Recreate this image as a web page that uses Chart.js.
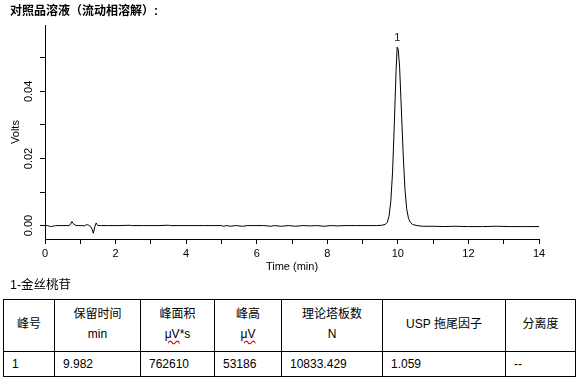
<!DOCTYPE html>
<html>
<head>
<meta charset="utf-8">
<script src="https://cdn.jsdelivr.net/npm/chart.js@4/dist/chart.umd.min.js"></script>
<style>
  body { margin: 0; background: #fff; width: 586px; height: 387px; position: relative; overflow: hidden;
         font-family: "Liberation Sans", "Noto Sans CJK SC", sans-serif; color: #000; }
  #title { position: absolute; left: 10px; top: 3px; font-size: 12px; font-weight: bold; line-height: 16px; white-space: nowrap; }
  #chart-box { position: absolute; left: 0; top: 0; width: 586px; height: 280px; }
  #compound { position: absolute; left: 10px; top: 277px; font-size: 12.5px; line-height: 16px; }
  #peak-table { position: absolute; left: 3px; top: 299px; border-collapse: collapse; table-layout: fixed; font-size: 12px; }
  #peak-table td { border: 1px solid #000; padding: 0; }
  #peak-table tr.head td { height: 52px; text-align: center; line-height: 20px; padding-bottom: 4px; box-sizing: border-box; }
  #peak-table tr.row td { height: 24px; text-align: left; padding-left: 8px; }
  .wavy { text-decoration: underline wavy #d00; text-underline-offset: 2px; }
</style>
</head>
<body>
<div id="chart-box"><canvas id="chromatogram" width="586" height="280"></canvas></div>
<div id="title">对照品溶液（流动相溶解）:</div>
<div id="compound">1-金丝桃苷</div>
<table id="peak-table"></table>

<script>
// chromatogram trace
const times = [
  0.00, 0.08, 0.15, 0.22, 0.30, 0.45, 0.60, 0.68, 0.72, 0.76, 0.80, 0.86, 0.95, 1.05, 1.12, 1.18,
  1.24, 1.30, 1.34, 1.37, 1.41, 1.45, 1.50, 1.60, 1.80, 2.10, 2.40, 2.45, 2.80, 3.20, 3.50, 3.55,
  4.00, 4.50, 5.00, 5.05, 5.15, 5.25, 5.40, 5.60, 5.75, 5.90, 6.20, 6.40, 6.50, 6.70, 6.90, 7.10,
  7.30, 7.50, 7.70, 7.90, 8.10, 8.30, 8.50, 8.80, 9.10, 9.40, 9.55, 9.65, 9.70, 9.75, 9.80, 9.85,
  9.90, 9.95, 9.98, 10.01, 10.05, 10.10, 10.15, 10.20, 10.25, 10.30, 10.35, 10.42, 10.55, 10.70,
  11.00, 11.30, 11.60, 12.00, 12.40, 12.80, 13.20, 13.60, 14.00
];
const volts = [
  0.0000, 0.0000, -0.0003, -0.0002, 0.0000, 0.0000, 0.0000, 0.0000, 0.0003, 0.0012, 0.0006, 0.0001, 0.0000, 0.0000, -0.0001, 0.0003,
  0.0001, -0.0004, -0.0012, -0.0023, -0.0004, 0.0008, 0.0000, 0.0000, 0.0000, 0.0000, 0.0001, 0.0000, 0.0000, 0.0000, 0.0001, 0.0000,
  0.0000, 0.0000, 0.0000, -0.0002, 0.0000, -0.0002, 0.0000, -0.0002, 0.0000, 0.0000, 0.0000, -0.0002, 0.0000, -0.0002, 0.0000, -0.0002,
  0.0000, -0.0001, 0.0000, -0.0002, 0.0000, -0.0001, 0.0000, 0.0000, 0.0000, 0.0000, 0.0001, 0.0004, 0.0010, 0.0028, 0.0072, 0.0160,
  0.0305, 0.0462, 0.0532, 0.0526, 0.0472, 0.0345, 0.0215, 0.0110, 0.0050, 0.0022, 0.0010, 0.0003, 0.0000, -0.0002,
  -0.0002, -0.0003, -0.0002, -0.0003, -0.0003, -0.0002, -0.0003, -0.0003, -0.0003
];

// peak annotation
const peakTimes = [9.982];
const peakHeights = [0.0532];
const peakLabels = ["1"];

// result table
const headNames = ["峰号", "保留时间", "峰面积", "峰高", "理论塔板数", "USP 拖尾因子", "分离度"];
const headUnits = ["", "min", "μV*s", "μV", "N", "", ""];
const rowValues = ["1", "9.982", "762610", "53186", "10833.429", "1.059", "--"];
const colWidths = [51, 86, 74, 67, 101, 123, 70];

const table = document.getElementById("peak-table");
const colgroup = document.createElement("colgroup");
colWidths.forEach((w) => {
  const col = document.createElement("col");
  col.style.width = w + "px";
  colgroup.appendChild(col);
});
table.appendChild(colgroup);
const headRow = table.insertRow();
headRow.className = "head";
headNames.forEach((name, i) => {
  const cell = headRow.insertCell();
  let unit = headUnits[i];
  if (unit === "μV*s") unit = '<span class="wavy">μV</span>*s';
  else if (unit === "μV") unit = '<span class="wavy">μV</span>';
  cell.innerHTML = unit ? name + "<br>" + unit : name;
});
const dataRow = table.insertRow();
dataRow.className = "row";
rowValues.forEach((v) => { dataRow.insertCell().textContent = v; });

const peakLabelPlugin = {
  id: "peakLabels",
  afterDatasetsDraw(chart) {
    const { ctx, scales } = chart;
    ctx.save();
    ctx.font = '11px "Liberation Sans", sans-serif';
    ctx.fillStyle = "#1a1030";
    ctx.textAlign = "center";
    ctx.textBaseline = "middle";
    peakTimes.forEach((t, i) => {
      const x = scales.x.getPixelForValue(t);
      const y = scales.y.getPixelForValue(peakHeights[i]);
      ctx.fillText(peakLabels[i], x, y - 9);
    });
    ctx.restore();
  },
};

const axisFont = { family: '"Liberation Sans", sans-serif', size: 11 };

new Chart(document.getElementById("chromatogram"), {
  type: "line",
  data: {
    datasets: [
      {
        data: times.map((t, i) => ({ x: t, y: volts[i] })),
        borderColor: "#000",
        borderWidth: 1,
        pointRadius: 0,
        tension: 0,
        fill: false,
      },
    ],
  },
  options: {
    responsive: false,
    devicePixelRatio: 1,
    animation: false,
    layout: { padding: { top: 25, right: 47, bottom: 0, left: 0 } },
    plugins: { legend: { display: false }, tooltip: { enabled: false } },
    scales: {
      x: {
        type: "linear",
        min: 0,
        max: 14,
        afterFit: (scale) => { scale.height = 41; },
        border: { display: true, color: "#000", width: 1 },
        grid: { drawOnChartArea: false, drawTicks: true, tickLength: 5, tickColor: "#000" },
        ticks: {
          stepSize: 1,
          includeBounds: false,
          padding: 3,
          color: "#000",
          font: axisFont,
          maxRotation: 0,
          autoSkip: false,
          callback: (v) => (Math.round(v) % 2 === 0 ? String(Math.round(v)) : ""),
        },
        title: { display: true, text: "Time (min)", color: "#000", font: axisFont, padding: { top: 0, bottom: 6 } },
      },
      y: {
        type: "linear",
        min: -0.004,
        max: 0.0598,
        afterFit: (scale) => { scale.width = 45; },
        border: { display: true, color: "#000", width: 1 },
        grid: { drawOnChartArea: false, drawTicks: true, tickLength: 5, tickColor: "#000" },
        ticks: {
          stepSize: 0.01,
          includeBounds: false,
          padding: 0,
          minRotation: 90,
          maxRotation: 90,
          crossAlign: "center",
          color: "#000",
          font: axisFont,
          autoSkip: false,
          callback: (v) => {
            const n = Math.round(v * 100);
            return n % 2 === 0 ? (n / 100).toFixed(2) : "";
          },
        },
        title: { display: true, text: "Volts", color: "#000", font: axisFont, padding: { top: 9, bottom: 0 } },
      },
    },
  },
  plugins: [peakLabelPlugin],
});
</script>
</body>
</html>
